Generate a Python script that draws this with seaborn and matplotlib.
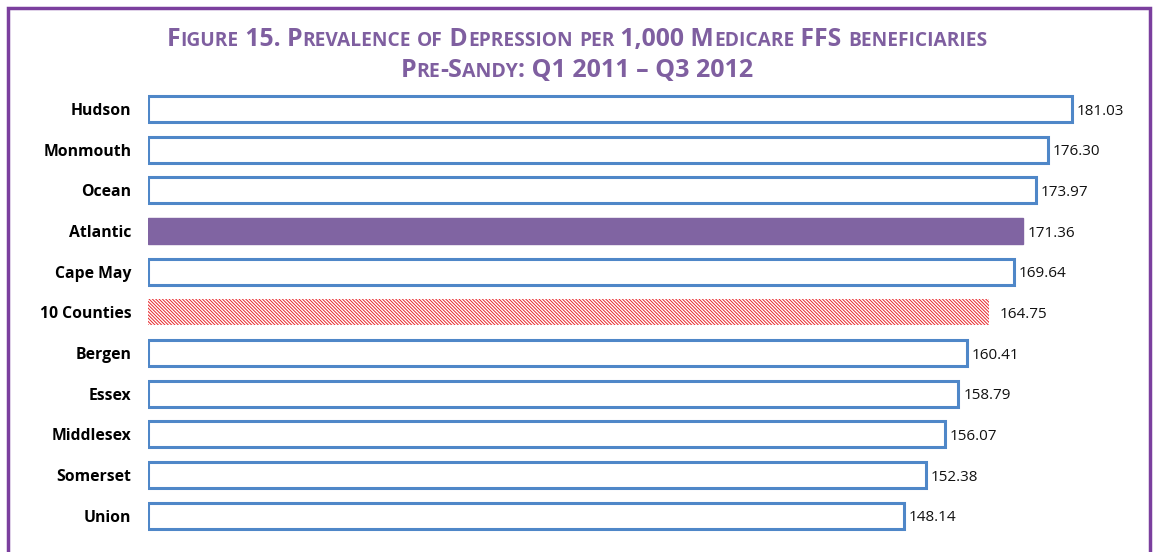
import matplotlib
matplotlib.use("Agg")
import matplotlib.pyplot as plt
import matplotlib.patches as patches
import seaborn as sns

# data
counties = ['Hudson', 'Monmouth', 'Ocean', 'Atlantic', 'Cape May', '10 Counties',
            'Bergen', 'Essex', 'Middlesex', 'Somerset', 'Union']
prevalence = [181.03, 176.30, 173.97, 171.36, 169.64, 164.75,
              160.41, 158.79, 156.07, 152.38, 148.14]
title_lines = ['Figure 15. Prevalence of Depression per 1,000 Medicare FFS beneficiaries',
               'Pre-Sandy: Q1 2011 \u2013 Q3 2012']

BLUE = '#4F87C8'
PURPLE = '#8064A2'
FRAME = '#7B3F9E'
TITLE_C = '#7F5FA0'
W, H = 1154, 552

sns.set_style('white')
plt.rcParams['font.family'] = ['Open Sans', 'DejaVu Sans']
plt.rcParams['hatch.linewidth'] = 0.7

fig = plt.figure(figsize=(W / 100, H / 100), dpi=100)
ax = fig.add_axes([148 / W, 0.029, (1140 - 148) / W, 0.8105])

sns.barplot(x=prevalence, y=counties, orient='h', ax=ax, width=0.64,
            color='white', saturation=1)

for bar, name in zip(ax.patches, counties):
    if name == 'Atlantic':
        bar.set_facecolor(PURPLE)
        bar.set_edgecolor(PURPLE)
        bar.set_linewidth(1)
    elif name == '10 Counties':
        bar.set_facecolor('white')
        bar.set_edgecolor('#E8262A')
        bar.set_hatch('\\' * 10)
        bar.set_linewidth(0)
    else:
        bar.set_facecolor('white')
        bar.set_edgecolor(BLUE)
        bar.set_linewidth(2.2)

for i, v in enumerate(prevalence):
    off = 8 if counties[i] == '10 Counties' else 3.5
    ax.annotate(f'{v:.2f}', (v, i), xytext=(off, -1.5), textcoords='offset points',
                va='center', ha='left', fontsize=11, color='#111111')

ax.set_xlim(0, (1140 - 148) / 5.104)
ax.set_ylim(10.5, -0.5)
ax.set_xlabel('')
ax.set_ylabel('')
ax.set_xticks([])
ax.tick_params(axis='y', length=0, pad=12)
for lab in ax.get_yticklabels():
    lab.set_fontweight('bold')
    lab.set_fontsize(11.3)
    lab.set_color('#000000')
sns.despine(ax=ax, left=True, bottom=True)

# purple frame round the figure
fig.patches.append(patches.Rectangle((8 / W, -0.05), (1150 - 8) / W, 1 - 8 / H + 0.05,
                                     transform=fig.transFigure, fill=False,
                                     edgecolor=FRAME, linewidth=2.5))


# small caps title drawn piece by piece
def small_caps_line(text, y_px, big, small):
    runs = []
    for ch in text:
        is_small = ch.islower()
        if runs and runs[-1][1] == is_small:
            runs[-1][0] += ch
        else:
            runs.append([ch, is_small])
    r = fig.canvas.get_renderer()
    pieces = []
    for s, is_small in runs:
        t = fig.text(0, 1 - y_px / H, s.upper(), fontsize=small if is_small else big,
                     fontweight='bold', color=TITLE_C, va='baseline', ha='left',
                     fontstretch='condensed')
        pieces.append(t)
    widths = [t.get_window_extent(r).width for t in pieces]
    x = (W - sum(widths)) / 2
    for t, w in zip(pieces, widths):
        t.set_x(x / W)
        x += w


small_caps_line(title_lines[0], 46, 17.8, 13.8)
small_caps_line(title_lines[1], 77, 18, 14)

fig.savefig('out.png', dpi=100)
